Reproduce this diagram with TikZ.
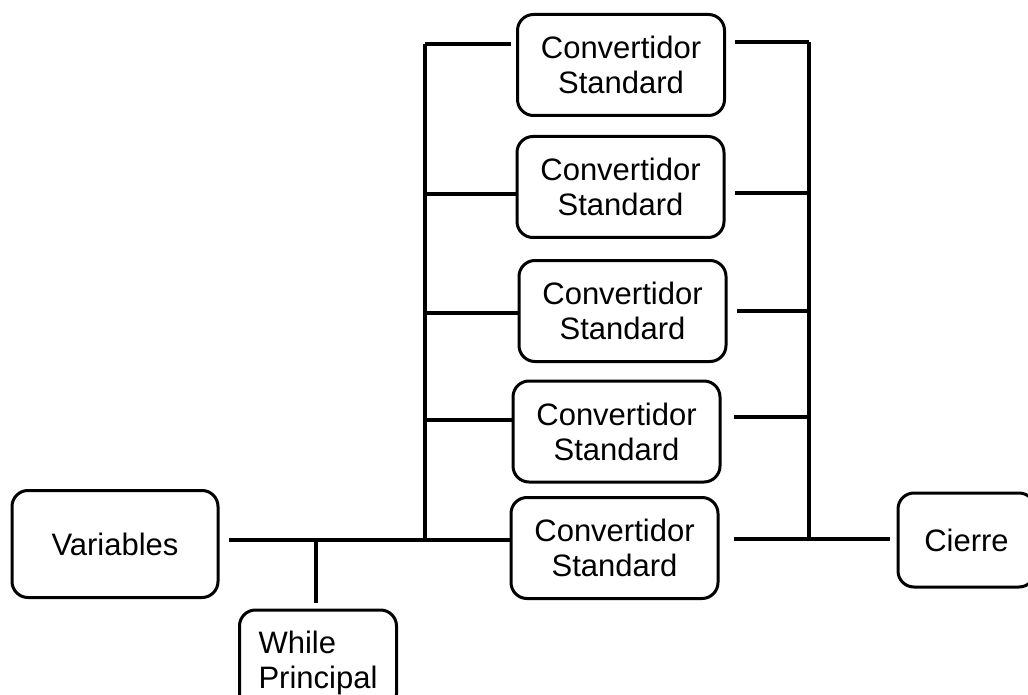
\documentclass[tikz,border=0pt]{standalone}
\usepackage{fontspec}
\setmainfont{Liberation Sans}
\begin{document}
\begin{tikzpicture}[x=1pt,y=-1pt,
  box/.style={draw, line width=3pt, rounded corners=16pt, inner sep=0pt,
    font=\fontsize{31}{35}\selectfont, align=center},
  conv/.style={box, minimum width=207pt, minimum height=101pt},
  wire/.style={line width=3.2pt}]
\useasboundingbox (0,0) rectangle (1028,695);
\node[conv] (b1) at (621,65) {Convertidor\\Standard};
\node[conv] (b2) at (620.5,187) {Convertidor\\Standard};
\node[conv] (b3) at (622.5,311) {Convertidor\\Standard};
\node[conv] (b4) at (616.5,431.5) {Convertidor\\Standard};
\node[conv] (b5) at (614.5,548) {Convertidor\\Standard};
\node[box, minimum width=206pt, minimum height=107pt] (var) at (115,544) {Variables};
\node[box, minimum width=157pt, minimum height=100pt, align=left, text depth=0pt] (wp) at (318,660) {While\\Principal};
\node[box, minimum width=137pt, minimum height=94pt] (ci) at (966.5,540) {Cierre};
% left bus
\coordinate (L1) at (425,44);
\coordinate (L2) at (425,194);
\coordinate (L3) at (425,313);
\coordinate (L4) at (425,420);
\coordinate (L5) at (425,540);
% right bus
\coordinate (R1) at (809,42);
\coordinate (R2) at (809,193);
\coordinate (R3) at (809,311);
\coordinate (R4) at (809,417);
\coordinate (R5) at (809,539);
\coordinate (T) at (316,540);
\coordinate (V) at (229,540);
\coordinate (C) at (890,539);
\draw[wire] (L1) -- (L5);
\draw[wire] (R1) -- (R5);
\draw[wire] (L1) -- ([xshift=-5pt]b1.west |- L1);
\draw[wire] (L2) -- (b2.west |- L2);
\draw[wire] (L3) -- (b3.west |- L3);
\draw[wire] (L4) -- (b4.west |- L4);
\draw[wire] (V) -- (b5.west |- V);
\draw[wire] ([xshift=9pt]b1.east |- R1) -- (R1);
\draw[wire] ([xshift=9pt]b2.east |- R2) -- (R2);
\draw[wire] ([xshift=9pt]b3.east |- R3) -- (R3);
\draw[wire] ([xshift=12pt]b4.east |- R4) -- (R4);
\draw[wire] ([xshift=14pt]b5.east |- R5) -- (C);
\draw[wire] (T) -- ([yshift=6pt]T |- wp.north);
\end{tikzpicture}
\end{document}
